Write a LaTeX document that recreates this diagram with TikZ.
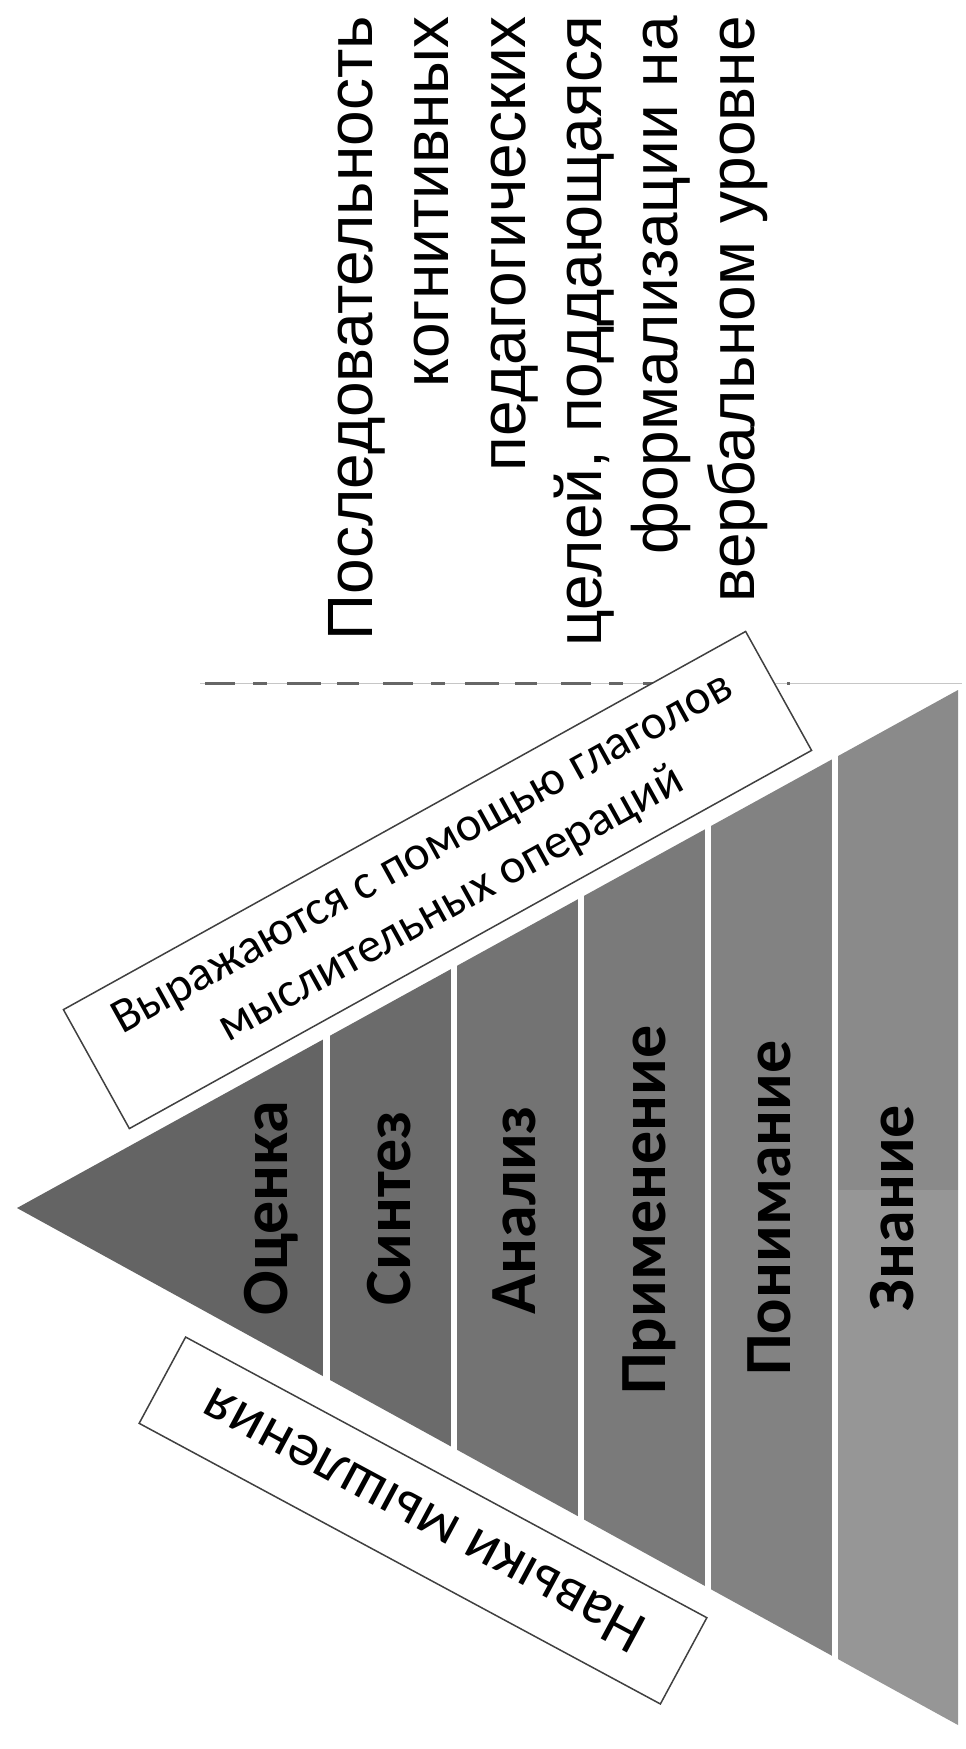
\documentclass[tikz,border=0pt]{standalone}
\usepackage{fontspec}
\setmainfont{Liberation Sans}
\newfontfamily\carlito{Carlito}
\definecolor{bandA}{HTML}{646464}
\definecolor{bandB}{HTML}{6B6B6B}
\definecolor{bandC}{HTML}{737373}
\definecolor{bandD}{HTML}{7A7A7A}
\definecolor{bandE}{HTML}{828282}
\definecolor{bandF}{HTML}{8A8A8A}
\definecolor{bandG}{HTML}{969696}
\definecolor{boxline}{HTML}{404040}
\tikzset{
  lbl/.style={rotate=90, anchor=base, inner sep=0pt, font=\carlito\bfseries\fontsize{66}{66}\selectfont},
  txt/.style={rotate=90, anchor=base east, inner sep=0pt, font=\fontsize{64}{64}\selectfont},
  tagbox/.style={draw=boxline, fill=white, line width=1.5pt, align=center, inner sep=0pt}
}
\begin{document}
\begin{tikzpicture}[x=1pt,y=-1pt]
\useasboundingbox (0,0) rectangle (966,1749);
\coordinate (apex) at (17,1208);
\coordinate (tr) at (958,690);
\coordinate (br) at (958,1725);
% frame line of the pasted picture
\draw[gray!45, line width=1pt] (200,683) -- (962,683);
\draw[black!60, line width=3pt, dash pattern=on 30pt off 18pt on 14pt off 20pt on 34pt off 16pt on 22pt off 24pt] (205,683) -- (790,683);
\begin{scope}
\clip (apex) -- (tr) -- (br) -- cycle;
\fill[bandA] (0,600) rectangle (323,1800);
\fill[bandB] (330,600) rectangle (451,1800);
\fill[bandC] (457,600) rectangle (578,1800);
\fill[bandD] (584,600) rectangle (705,1800);
\fill[bandE] (711,600) rectangle (832,1800);
\fill[bandF] (838,600) rectangle (960,1190);
\fill[bandG] (838,1190) rectangle (960,1800);
\end{scope}
% level labels
\node[lbl] (l1) at (287,1208) {Оценка};
\node[lbl] (l2) at (410,1208) {Синтез};
\node[lbl] (l3) at (535,1210) {Анализ};
\node[lbl] (l4) at (665,1210) {Применение};
\node[lbl] (l5) at (790,1208) {Понимание};
\node[lbl] (l6) at (913,1208) {Знание};
% heading text
\node[txt] (t1) at (372,16) {Последовательность};
\node[txt] (t2) at (448,16) {когнитивных};
\node[txt] (t3) at (525,16) {педагогических};
\node[txt] (t4) at (601,16) {целей, поддающаяся};
\node[txt] (t5) at (677,16) {формализации на};
\node[txt] (t6) at (754,16) {вербальном уровне};
% boxes
\node[tagbox, rotate=29, minimum width=780, minimum height=136, font=\carlito\fontsize{49}{58}\selectfont] (b1) at (437.5,880) {Выражаются с помощью глаголов\\мыслительных операций};
\node[tagbox, rotate=151.7, minimum width=592, minimum height=98, font=\carlito\fontsize{61}{62}\selectfont] (b2) at (423,1520.5) {Навыки мышления};
\end{tikzpicture}
\end{document}
